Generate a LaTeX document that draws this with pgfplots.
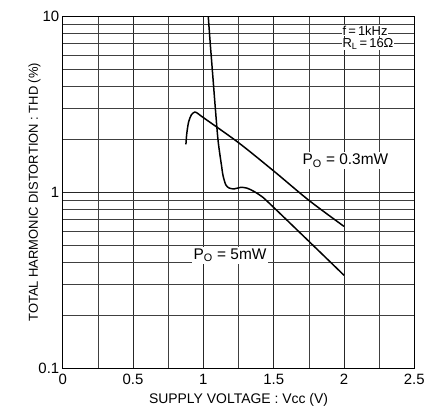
\documentclass[border=0pt]{standalone}
\usepackage{pgfplots}
\pgfplotsset{compat=1.18}
\usepackage{fontspec}
\setmainfont{Liberation Sans}
\begin{document}
\begin{tikzpicture}
\begin{axis}[
  scale only axis, width=353pt, height=354pt,
  xmin=0, xmax=2.5, ymode=log, ymin=0.1, ymax=10,
  xtick={0,0.5,1,1.5,2,2.5},
  xticklabels={0,0.5,1,1.5,2,2.5},
  minor x tick num=1,
  ytick={0.1,1,10}, yticklabels={0.1,1,10},
  grid=both,
  major grid style={black!85, line width=0.6pt},
  minor grid style={black!75, line width=0.5pt},
  tick style={draw=none},
  axis line style={black, line width=0.8pt},
  font=\fontsize{13.5}{16}\selectfont,
  tick label style={font=\fontsize{15}{16}\selectfont},
  xticklabel style={yshift=-2pt},
  /pgf/number format/assume math mode=true,
  xlabel={SUPPLY VOLTAGE : Vcc (V)},
  ylabel={TOTAL HARMONIC DISTORTION : THD (\%)},
  xlabel style={yshift=-2pt, font=\fontsize{14}{16}\selectfont},
  ylabel style={yshift=-9pt, font=\fontsize{13}{16}\selectfont},
  clip=false,
]
\addplot[black, line width=1.5pt, smooth, tension=0.5] coordinates {
(0.876,1.87) (0.882,2.15) (0.895,2.5) (0.915,2.75) (0.94,2.85) (0.965,2.78)
(1.0,2.65) (1.25,1.91) (1.5,1.32) (1.75,0.90) (2.0,0.64)};
\addplot[black, line width=1.5pt, smooth, tension=0.5] coordinates {
(1.035,9.9) (1.05,6.8) (1.065,4.8) (1.085,3.0) (1.105,1.95) (1.13,1.4)
(1.14,1.24) (1.16,1.1) (1.185,1.055) (1.22,1.045) (1.265,1.065) (1.31,1.055) (1.36,1.01)
(1.42,0.94) (1.5,0.82) (1.75,0.527) (2.0,0.338)};
\node[anchor=west, fill=white, inner sep=0.5pt, font=\fontsize{13}{13}\selectfont] at (axis cs:1.985,8.25) {f\,=\,1kHz};
\node[anchor=west, fill=white, inner sep=0.5pt, font=\fontsize{13}{13}\selectfont] at (axis cs:1.985,6.95) {R\textsubscript{L}\,=\,16Ω};
\node[fill=white, inner sep=2pt, font=\fontsize{15.5}{17}\selectfont] at (axis cs:2.01,1.51) {P\textsubscript{O} = 0.3mW};
\node[fill=white, inner sep=2pt, font=\fontsize{15.5}{17}\selectfont] at (axis cs:1.19,0.438) {P\textsubscript{O} = 5mW};
\path (rel axis cs:0,0) ++(-63pt,-40pt) coordinate (bbA);
\path (rel axis cs:1,1) ++(12pt,16pt) coordinate (bbB);
\end{axis}
\useasboundingbox (bbA) rectangle (bbB);
\end{tikzpicture}
\end{document}
